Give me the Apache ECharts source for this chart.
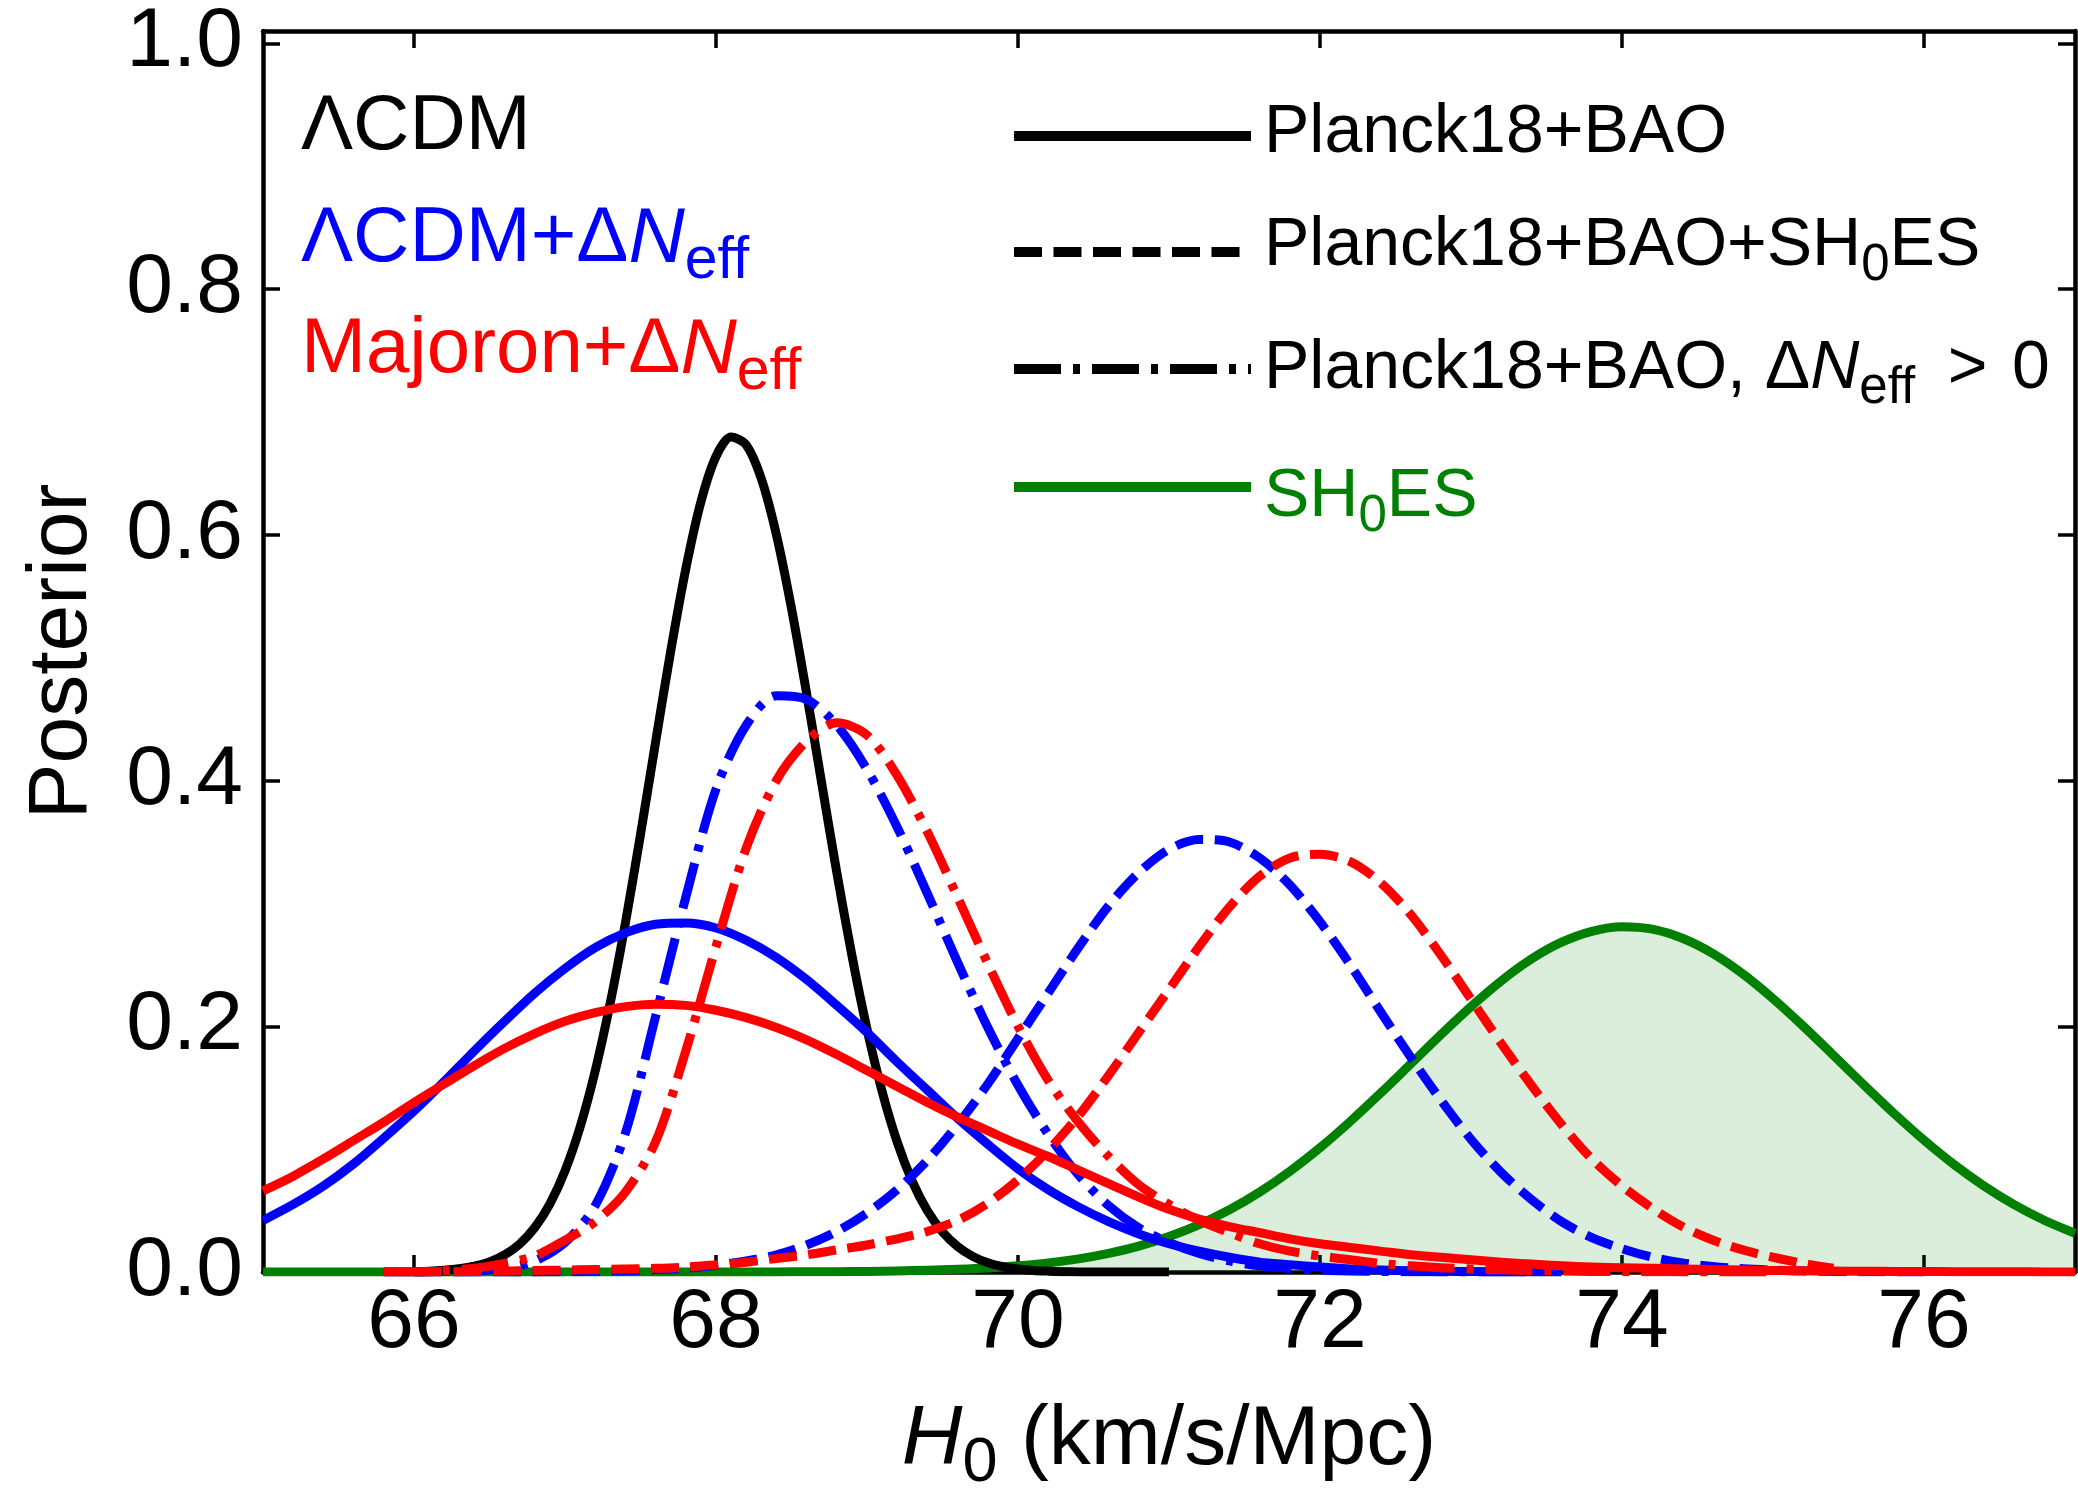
<!DOCTYPE html>
<html>
<head>
<meta charset="utf-8">
<title>H0 posteriors</title>
<script src="https://cdn.jsdelivr.net/npm/echarts@6/dist/echarts.min.js"></script>
<style>
  html, body { margin: 0; padding: 0; background: #ffffff; }
  #chart { width: 2078px; height: 1488px; }
</style>
</head>
<body>
<div id="chart"></div>
<script>
// H0 sample points (km/s/Mpc) shared by the broad posterior curves
const h0Grid = [
  65.0, 65.2, 65.4, 65.6, 65.8, 66.0, 66.2, 66.4, 66.6, 66.8,
  67.0, 67.2, 67.4, 67.6, 67.8, 68.0, 68.2, 68.4, 68.6, 68.8,
  69.0, 69.2, 69.4, 69.6, 69.8, 70.0, 70.2, 70.4, 70.6, 70.8,
  71.0, 71.2, 71.4, 71.6, 71.8, 72.0, 72.2, 72.4, 72.6, 72.8,
  73.0, 73.2, 73.4, 73.6, 73.8, 74.0, 74.2, 74.4, 74.6, 74.8,
  75.0, 75.2, 75.4, 75.6, 75.8, 76.0, 76.2, 76.4, 76.6, 76.8,
  77.0
];

// LambdaCDM, Planck18+BAO (narrow peak, sampled more finely)
const lcdmBaseH0 = [
  66.0, 66.1, 66.2, 66.3, 66.4, 66.5, 66.6, 66.7, 66.8, 66.9,
  67.0, 67.1, 67.2, 67.3, 67.4, 67.5, 67.6, 67.7, 67.8, 67.9,
  68.0, 68.1, 68.2, 68.3, 68.4, 68.5, 68.6, 68.7, 68.8, 68.9,
  69.0, 69.1, 69.2, 69.3, 69.4, 69.5, 69.6, 69.7, 69.8, 69.9,
  70.0, 70.1, 70.2, 70.3, 70.4, 70.5, 70.6, 70.7, 70.8, 70.9,
  71.0
];
const lcdmBase = [
  0.0004, 0.0007, 0.0014, 0.0026, 0.0047, 0.0082, 0.0139, 0.0228, 0.0362, 0.0555,
  0.0823, 0.118, 0.1636, 0.2192, 0.2841, 0.356, 0.4313, 0.5053, 0.5723, 0.6268,
  0.6637, 0.6795, 0.6731, 0.6457, 0.6001, 0.5401, 0.4709, 0.3977, 0.3252, 0.2577,
  0.1977, 0.147, 0.1058, 0.0738, 0.0498, 0.0326, 0.0207, 0.0127, 0.0075, 0.0043,
  0.0024, 0.0013, 0.0007, 0.0003, 0.0001, 0, 0, 0, 0, 0,
  0
];

// LambdaCDM + dNeff, Planck18+BAO
const neffBase = [
  0.042, 0.055, 0.070, 0.088, 0.109, 0.131, 0.155, 0.180, 0.204, 0.227,
  0.247, 0.264, 0.276, 0.283, 0.284, 0.280, 0.270, 0.256, 0.238, 0.217,
  0.195, 0.171, 0.148, 0.125, 0.104, 0.084, 0.067, 0.053, 0.041, 0.031,
  0.023, 0.017, 0.012, 0.008, 0.006, 0.004, 0.0025, 0.0016, 0.001, 0.0006,
  0.0004, 0.0002, 0.0001, 0, null, null, null, null, null, null,
  null, null, null, null, null, null, null, null, null, null,
  null
];

// LambdaCDM + dNeff, Planck18+BAO+SH0ES
const neffShoes = [
  null, null, null, null, null, 0, 0, 0, 0.0001, 0.0001,
  0.0003, 0.0006, 0.001, 0.002, 0.003, 0.0055, 0.009, 0.014, 0.022, 0.033,
  0.048, 0.067, 0.091, 0.120, 0.153, 0.190, 0.227, 0.264, 0.298, 0.325,
  0.344, 0.352, 0.350, 0.337, 0.315, 0.285, 0.250, 0.212, 0.175, 0.140,
  0.108, 0.081, 0.059, 0.041, 0.028, 0.019, 0.012, 0.0074, 0.0045, 0.0026,
  0.0015, 0.0008, 0.0004, 0.0002, 0.0001, 0, null, null, null, null,
  null
];

// LambdaCDM + dNeff, Planck18+BAO with dNeff > 0
const neffPositive = [
  null, null, null, null, 0, 0, 0.0005, 0.001, 0.003, 0.009,
  0.024, 0.054, 0.113, 0.208, 0.305, 0.393, 0.445, 0.469, 0.466, 0.445,
  0.409, 0.362, 0.308, 0.252, 0.199, 0.152, 0.112, 0.079, 0.054, 0.036,
  0.024, 0.015, 0.009, 0.005, 0.003, 0.0015, 0.0008, 0.0004, 0.0002, 0.0001,
  0, 0, 0, null, null, null, null, null, null, null,
  null, null, null, null, null, null, null, null, null, null,
  null
];

// Majoron + dNeff, Planck18+BAO
const majBase = [
  0.066, 0.078, 0.092, 0.107, 0.122, 0.138, 0.153, 0.168, 0.182, 0.194,
  0.204, 0.211, 0.216, 0.218, 0.217, 0.213, 0.207, 0.199, 0.189, 0.177,
  0.164, 0.151, 0.138, 0.126, 0.115, 0.104, 0.094, 0.083, 0.072, 0.061,
  0.051, 0.043, 0.037, 0.032, 0.027, 0.023, 0.020, 0.017, 0.014, 0.012,
  0.010, 0.008, 0.0065, 0.005, 0.004, 0.0035, 0.003, 0.0025, 0.002, 0.0016,
  0.0013, 0.001, 0.0008, 0.0006, 0.0005, 0.0004, 0.0003, 0.0002, 0.0002, 0.0001,
  0.0001
];

// Majoron + dNeff, Planck18+BAO+SH0ES
const majShoes = [
  null, null, null, null, null, 0, 0.0002, 0.0004, 0.0007, 0.0012,
  0.0015, 0.002, 0.0025, 0.003, 0.004, 0.006, 0.008, 0.011, 0.014, 0.018,
  0.022, 0.027, 0.033, 0.042, 0.056, 0.075, 0.099, 0.127, 0.160, 0.195,
  0.230, 0.265, 0.297, 0.322, 0.337, 0.340, 0.334, 0.317, 0.291, 0.258,
  0.222, 0.186, 0.152, 0.120, 0.092, 0.070, 0.052, 0.037, 0.026, 0.018,
  0.012, 0.007, 0.003, null, null, null, null, null, null, null,
  null
];

// Majoron + dNeff, Planck18+BAO with dNeff > 0
const majPositive = [
  null, null, null, null, 0, 0, 0.001, 0.003, 0.007, 0.013,
  0.026, 0.041, 0.065, 0.106, 0.180, 0.265, 0.345, 0.400, 0.432, 0.447,
  0.437, 0.404, 0.358, 0.305, 0.251, 0.200, 0.156, 0.122, 0.094, 0.071,
  0.055, 0.042, 0.032, 0.023, 0.017, 0.013, 0.010, 0.007, 0.005, 0.0035,
  0.0025, 0.0018, 0.0012, 0.0008, 0.0005, 0.0003, 0.0002, 0.0001, 0, 0,
  0, null, null, null, null, null, null, null, null, null,
  null
];

// SH0ES local measurement
const shoes = [
  0, 0, 0, 0, 0, 0, 0, 0, 0, 0,
  0, 0, 0, 0, 0, 0.0000, 0.0001, 0.0001, 0.0002, 0.0003,
  0.0005, 0.0009, 0.0014, 0.0022, 0.0033, 0.005, 0.0074, 0.0107, 0.0152, 0.0211,
  0.0289, 0.0386, 0.0506, 0.065, 0.0819, 0.1011, 0.1225, 0.1454, 0.1692, 0.1931,
  0.216, 0.2369, 0.2547, 0.2684, 0.2773, 0.281, 0.279, 0.2716, 0.2593, 0.2426,
  0.2225, 0.2001, 0.1764, 0.1525, 0.1292, 0.1073, 0.0874, 0.0698, 0.0546, 0.0419,
  0.0315
];

const xTicks = [66, 68, 70, 72, 74, 76];
const yTicks = [0, 0.2, 0.4, 0.6, 0.8, 1.0];

const FONT = '"Liberation Sans", Arial, Helvetica, sans-serif';
const BLUE = '#0000ff', RED = '#ff0000', BLACK = '#000000', GREEN = '#008000';
const LW = 9;
const DASHED = [28, 11.5];
const DASHDOT = [47, 12, 7, 12];
const MID = 0.3465;   // canvas "middle" to alphabetic baseline, in em
const SUB = 0.75;     // subscript size relative to the main text

function pairs(xs, vals) {
  return xs.map((x, i) => [x, vals[i]]).filter(p => p[1] !== null && p[1] !== undefined);
}

function curve(name, xs, vals, color, dash, extra) {
  return Object.assign({
    name: name,
    type: 'line',
    data: pairs(xs, vals),
    smooth: 0.3,
    showSymbol: false,
    symbol: 'none',
    lineStyle: { color: color, width: LW, type: dash || 'solid', cap: 'butt', join: 'round' },
    emphasis: { disabled: true },
    z: 3
  }, extra || {});
}

// Rich-text styles: upright text, italic symbol, lowered subscript.
// The subscript token is bottom-aligned in a line of height L, so L sets how far it drops.
function richParts(F, drop, colorKey, color) {
  const f = Math.round(F * SUB);
  const L = Math.round(2 * (drop + 0.1535 * f + MID * F));
  const c = {}; c[colorKey] = color;
  return {
    L: L,
    rich: {
      r: Object.assign({ fontSize: F, fontFamily: FONT, lineHeight: L, verticalAlign: 'middle' }, c),
      i: Object.assign({ fontSize: F, fontFamily: FONT, fontStyle: 'italic', lineHeight: L, verticalAlign: 'middle' }, c),
      s: Object.assign({ fontSize: f, fontFamily: FONT, lineHeight: f, verticalAlign: 'bottom' }, c)
    }
  };
}

function label(text, x, baseline, F, color, drop) {
  const st = richParts(F, drop, 'fill', color);
  return {
    type: 'text',
    x: x,
    y: baseline - st.L / 2 - MID * F,
    z: 10,
    style: { text: text, rich: st.rich, align: 'left', verticalAlign: 'top', fill: color, fontSize: F, fontFamily: FONT }
  };
}

function keyLine(y, color, dash) {
  return {
    type: 'line',
    z: 10,
    shape: { x1: 1014, y1: y, x2: 1251, y2: y },
    style: { stroke: color, lineWidth: 10, lineDash: dash || null, lineCap: 'butt' }
  };
}

const chart = echarts.init(document.getElementById('chart'), null, { renderer: 'canvas' });

const axisLineStyle = { color: BLACK, width: 4.5 };
const tickStyle = { color: BLACK, width: 3.5 };

const xTitle = richParts(84, 15, 'color', BLACK);
const X_AXIS_Y = 1272, X_TITLE_BASE = 1470;

const option = {
  animation: false,
  backgroundColor: '#ffffff',
  grid: { left: 263, right: 3, top: 31, bottom: 216, containLabel: false, outerBoundsMode: 'none' },
  xAxis: [
    {
      type: 'value', position: 'bottom', min: 65, max: 77,
      axisLine: { show: true, onZero: false, lineStyle: axisLineStyle },
      axisTick: { show: true, inside: true, length: 17, lineStyle: tickStyle, customValues: xTicks },
      axisLabel: { show: true, customValues: xTicks, fontSize: 84, lineHeight: 84, fontFamily: FONT, color: BLACK, margin: 10 },
      splitLine: { show: false },
      name: '{i|H}{s|0}{r| (km/s/Mpc)}',
      nameLocation: 'middle',
      nameGap: Math.round(X_TITLE_BASE - X_AXIS_Y - xTitle.L / 2 - MID * 84),
      nameTextStyle: { fontSize: 84, fontFamily: FONT, color: BLACK, lineHeight: xTitle.L, rich: xTitle.rich }
    },
    {
      type: 'value', position: 'top', min: 65, max: 77,
      axisLine: { show: true, onZero: false, lineStyle: axisLineStyle },
      axisTick: { show: true, inside: true, length: 17, lineStyle: tickStyle, customValues: xTicks },
      axisLabel: { show: false },
      splitLine: { show: false }
    }
  ],
  yAxis: [
    {
      type: 'value', position: 'left', min: 0, max: 1.01,
      axisLine: { show: true, onZero: false, lineStyle: axisLineStyle },
      axisTick: { show: true, inside: true, length: 17, lineStyle: tickStyle, customValues: yTicks },
      axisLabel: {
        show: true, customValues: yTicks, fontSize: 84, lineHeight: 84, fontFamily: FONT, color: BLACK, margin: 20,
        formatter: v => Number(v).toFixed(1)
      },
      splitLine: { show: false },
      name: 'Posterior',
      nameLocation: 'middle',
      nameGap: 150,
      nameTextStyle: { fontSize: 84, fontFamily: FONT, color: BLACK, lineHeight: 100 }
    },
    {
      type: 'value', position: 'right', min: 0, max: 1.01,
      axisLine: { show: true, onZero: false, lineStyle: axisLineStyle },
      axisTick: { show: true, inside: true, length: 17, lineStyle: tickStyle, customValues: yTicks },
      axisLabel: { show: false },
      splitLine: { show: false }
    }
  ],
  series: [
    curve('SH0ES', h0Grid, shoes, GREEN, 'solid', { areaStyle: { color: 'rgba(0,128,0,0.2)', origin: 'start' }, z: 2 }),
    curve('ΛCDM Planck18+BAO', lcdmBaseH0, lcdmBase, BLACK),
    curve('ΛCDM+ΔNeff Planck18+BAO', h0Grid, neffBase, BLUE),
    curve('ΛCDM+ΔNeff Planck18+BAO+SH0ES', h0Grid, neffShoes, BLUE, DASHED),
    curve('ΛCDM+ΔNeff Planck18+BAO, ΔNeff>0', h0Grid, neffPositive, BLUE, DASHDOT),
    curve('Majoron+ΔNeff Planck18+BAO', h0Grid, majBase, RED),
    curve('Majoron+ΔNeff Planck18+BAO+SH0ES', h0Grid, majShoes, RED, DASHED),
    curve('Majoron+ΔNeff Planck18+BAO, ΔNeff>0', h0Grid, majPositive, RED, DASHDOT)
  ],
  graphic: [
    // model names
    label('{r|ΛCDM}', 301, 155, 78, BLACK, 15),
    label('{r|ΛCDM+Δ}{i|N}{s|eff}', 301, 267, 78, BLUE, 15),
    label('{r|Majoron+Δ}{i|N}{s|eff}', 301, 378, 78, RED, 15),
    // data-combination key
    keyLine(136, BLACK),
    label('{r|Planck18+BAO}', 1264, 157, 68, BLACK, 13),
    keyLine(252, BLACK, DASHED),
    label('{r|Planck18+BAO+SH}{s|0}{r|ES}', 1264, 270, 68, BLACK, 13),
    keyLine(369, BLACK, DASHDOT),
    label('{r|Planck18+BAO, Δ}{i|N}{s|eff}{r| \u2009>\u200A 0}', 1264, 393, 68, BLACK, 13),
    keyLine(487, GREEN),
    label('{r|SH}{s|0}{r|ES}', 1264, 521, 68, GREEN, 13)
  ]
};

chart.setOption(option);
</script>
</body>
</html>
